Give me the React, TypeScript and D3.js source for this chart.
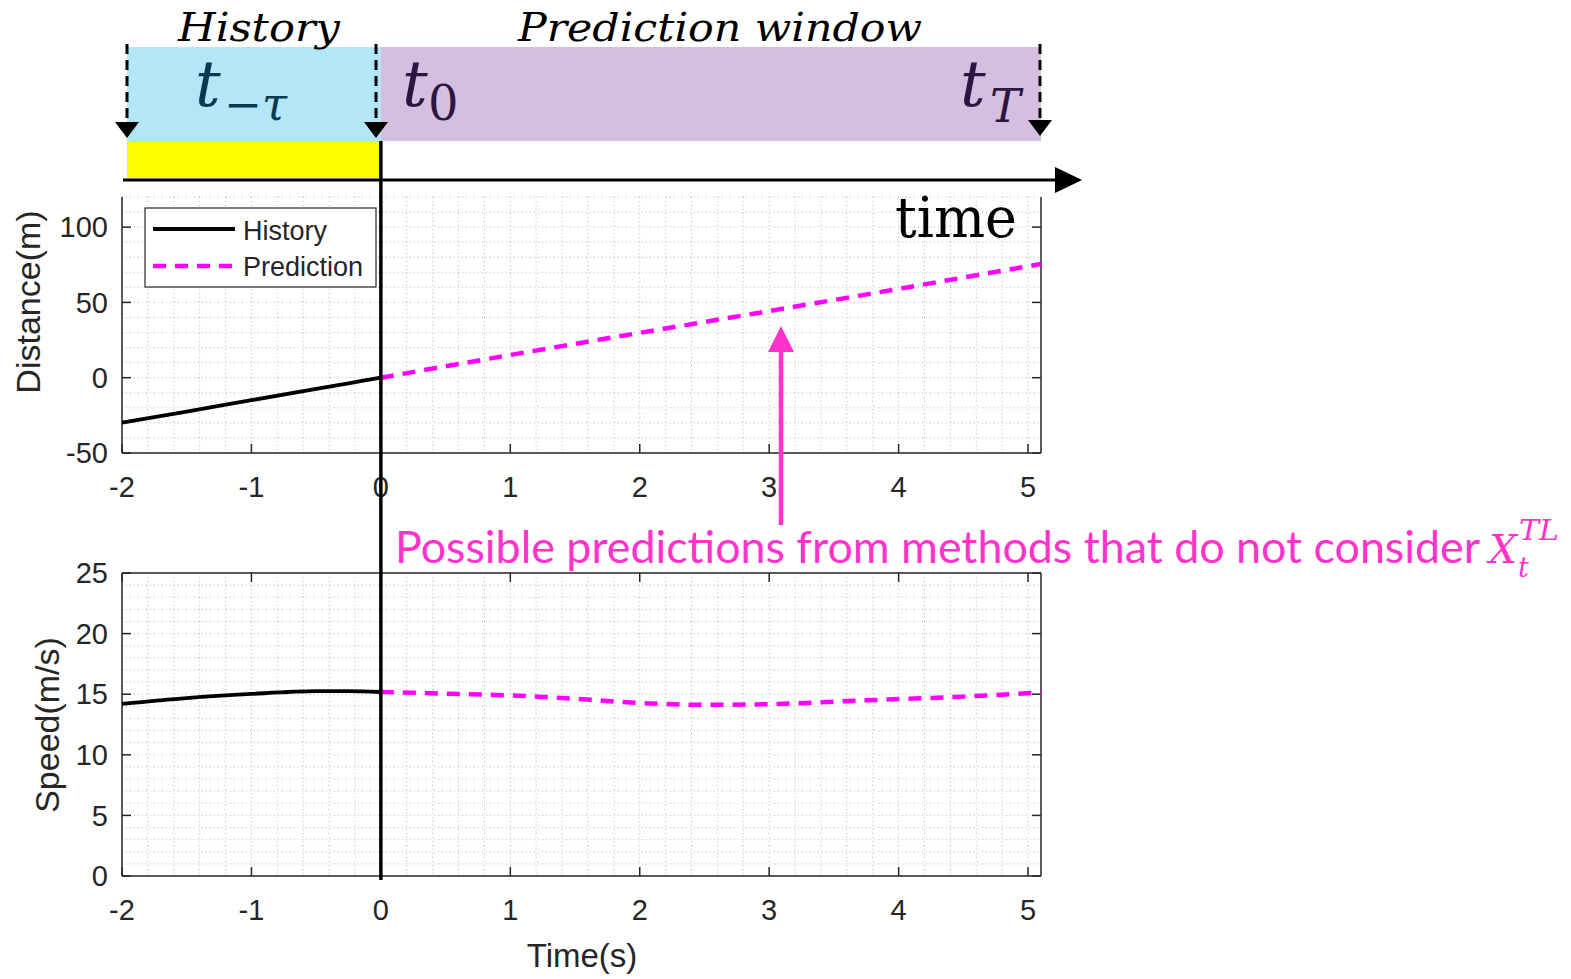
import React from "react";
import * as d3 from "d3";

// time axis ticks shared by both panels
const timeTicks = [-2, -1, 0, 1, 2, 3, 4, 5];
const distTicks = [-50, 0, 50, 100];
const speedTicks = [0, 5, 10, 15, 20, 25];

// history (t <= 0)
const histTime = [-2, -1.5, -1, -0.5, -0.25, 0];
const histDist = [-29.8, -22.5, -14.9, -7.4, -3.7, 0];
const histSpeed = [14.2, 14.68, 15.02, 15.25, 15.26, 15.18];

// prediction (t >= 0)
const predTime = [0, 0.5, 1, 1.5, 2, 2.5, 3, 3.5, 4, 4.5, 5.1];
const predDist = [0, 7.6, 15.1, 22.5, 29.8, 37.0, 44.3, 51.6, 59.0, 66.5, 75.5];
const predSpeed = [15.18, 15.05, 14.9, 14.62, 14.28, 14.12, 14.18, 14.38, 14.6, 14.8, 15.15];

const axisColor = "#262626";
const magenta = "#FF00FF";
const annot = "#FF33CC";
const sans = "'Liberation Sans', Arial, sans-serif";
const serif = "'DejaVu Serif', serif";

const x = d3.scaleLinear().domain([-2, 5.1]).range([122, 1041]);
const yDist = d3.scaleLinear().domain([-50, 120]).range([453, 197]);
const ySpeed = d3.scaleLinear().domain([0, 25]).range([876, 573]);

type PanelProps = {
  y: d3.ScaleLinear<number, number>;
  yTicks: number[];
  yMinor: number;
  label: string;
  labelX: number;
  labelY: number;
  hist: number[];
  pred: number[];
  drawTop: boolean;
};

const Panel = ({ y, yTicks, yMinor, label, labelX, labelY, hist, pred, drawTop }: PanelProps) => {
  const [x0, x1] = x.range();
  const [yb, yt] = y.range();
  const [d0, d1] = y.domain();
  const line = (ts: number[]) =>
    d3.line<number>()
      .x((_, i) => x(ts[i]))
      .y((v) => y(v))
      .curve(d3.curveMonotoneX);
  const xMinor = d3.range(-2, 5.1001, 0.2);
  const yMin = d3.range(d0, d1 + 0.001, yMinor);

  return (
    <g>
      {/* dotted minor grid */}
      <g stroke="#b5b5b5" strokeWidth={1} strokeDasharray="1,3">
        {xMinor.map((t) => (
          <line key={"gx" + t} x1={x(t)} x2={x(t)} y1={yt} y2={yb} />
        ))}
        {yMin.map((v) => (
          <line key={"gy" + v} x1={x0} x2={x1} y1={y(v)} y2={y(v)} />
        ))}
      </g>

      {/* axes box */}
      <g stroke={axisColor} strokeWidth={1.5} fill="none">
        <line x1={x0} x2={x1} y1={yb} y2={yb} />
        <line x1={x0} x2={x0} y1={yt} y2={yb} />
        <line x1={x1} x2={x1} y1={yt} y2={yb} />
        {drawTop && <line x1={x0} x2={x1} y1={yt} y2={yt} />}
        {timeTicks.map((t) => (
          <g key={"tx" + t}>
            <line x1={x(t)} x2={x(t)} y1={yb} y2={yb - 9} />
            {drawTop && <line x1={x(t)} x2={x(t)} y1={yt} y2={yt + 9} />}
          </g>
        ))}
        {yTicks.map((v) => (
          <g key={"ty" + v}>
            <line x1={x0} x2={x0 + 9} y1={y(v)} y2={y(v)} />
            <line x1={x1} x2={x1 - 9} y1={y(v)} y2={y(v)} />
          </g>
        ))}
      </g>

      {/* tick labels */}
      <g fontFamily={sans} fontSize={29} fill={axisColor}>
        {timeTicks.map((t) => (
          <text key={"lx" + t} x={x(t)} y={yb + 34} dy="0.35em" textAnchor="middle">
            {t}
          </text>
        ))}
        {yTicks.map((v) => (
          <text key={"ly" + v} x={x0 - 14} y={y(v)} dy="0.35em" textAnchor="end">
            {v}
          </text>
        ))}
        <text
          transform={`translate(${labelX},${labelY}) rotate(-90)`}
          textAnchor="middle"
          dy="0.35em"
          fontSize={34}
        >
          {label}
        </text>
      </g>

      {/* series */}
      <path d={line(histTime)(hist) || ""} fill="none" stroke="#000" strokeWidth={3.8} />
      <path
        d={line(predTime)(pred) || ""}
        fill="none"
        stroke={magenta}
        strokeWidth={4.5}
        strokeDasharray="13,9"
      />
    </g>
  );
};

const DashedArrow = ({ px, top, tip }: { px: number; top: number; tip: number }) => (
  <g>
    <line x1={px} x2={px} y1={top} y2={tip - 14} stroke="#000" strokeWidth={3} strokeDasharray="10,6" />
    <path d={`M${px - 12},${tip - 16} L${px + 12},${tip - 16} L${px},${tip} Z`} fill="#000" />
  </g>
);

const App = () => {
  const xHistStart = 127;
  const xNow = x(0);
  const xEnd = 1041;

  return (
    <svg
      width={1571}
      height={979}
      style={{ position: "absolute", left: 0, top: 0, background: "#fff" }}
    >
      {/* plots */}
      <Panel
        y={yDist}
        yTicks={distTicks}
        yMinor={10}
        label="Distance(m)"
        labelX={28}
        labelY={302}
        hist={histDist}
        pred={predDist}
        drawTop={false}
      />
      <Panel
        y={ySpeed}
        yTicks={speedTicks}
        yMinor={1}
        label="Speed(m/s)"
        labelX={47}
        labelY={725}
        hist={histSpeed}
        pred={predSpeed}
        drawTop={true}
      />

      <text x={582} y={955} dy="0.35em" textAnchor="middle" fontFamily={sans} fontSize={33} fill={axisColor}>
        Time(s)
      </text>

      {/* legend */}
      <g>
        <rect x={145} y={208} width={231} height={79} fill="#fff" stroke={axisColor} strokeWidth={1.2} />
        <line x1={153} x2={235} y1={229} y2={229} stroke="#000" strokeWidth={3.8} />
        <line x1={153} x2={235} y1={266} y2={266} stroke={magenta} strokeWidth={4.5} strokeDasharray="13,9" />
        <g fontFamily={sans} fontSize={27} fill={axisColor}>
          <text x={243} y={240}>History</text>
          <text x={243} y={276}>Prediction</text>
        </g>
      </g>

      {/* header: history / prediction windows */}
      <rect x={xHistStart} y={47} width={xNow - xHistStart} height={95} fill="#B3E6F7" />
      <rect x={xNow} y={47} width={xEnd - xNow} height={94} fill="#D4BFE1" />
      <rect x={xHistStart} y={142} width={xNow - xHistStart} height={36} fill="#FFFF00" />

      <g fontFamily={serif} fontStyle="italic" fill="#000">
        <text x={178} y={41} fontSize={40} textLength={162} lengthAdjust="spacingAndGlyphs">
          History
        </text>
        <text x={518} y={41} fontSize={40} textLength={404} lengthAdjust="spacingAndGlyphs">
          Prediction window
        </text>
      </g>

      <g fontFamily={serif} fontStyle="italic">
        <text x={195} y={106} fontSize={64} fill="#063A4C">t</text>
        <text x={224} y={120} fontSize={46} fill="#063A4C" textLength={63} lengthAdjust="spacingAndGlyphs">
          −τ
        </text>
        <text x={402} y={106} fontSize={64} fill="#2B1541">t</text>
        <text x={428} y={120} fontSize={48} fill="#2B1541" fontStyle="normal">0</text>
        <text x={960} y={106} fontSize={64} fill="#2B1541">t</text>
        <text x={990} y={122} fontSize={46} fill="#2B1541">T</text>
      </g>

      <DashedArrow px={127} top={44} tip={138} />
      <DashedArrow px={376} top={44} tip={138} />
      <DashedArrow px={1040} top={44} tip={136} />

      {/* time arrow */}
      <line x1={123} x2={1060} y1={180} y2={180} stroke="#000" strokeWidth={3} />
      <path d="M1055,167 L1082,180 L1055,193 Z" fill="#000" />
      <line x1={xNow} x2={xNow} y1={141} y2={880} stroke="#000" strokeWidth={3.5} />

      <text x={895} y={237} fontFamily={serif} fontSize={56} fill="#000" textLength={122} lengthAdjust="spacingAndGlyphs">
        time
      </text>

      {/* annotation */}
      <line x1={781} x2={781} y1={525} y2={350} stroke={annot} strokeWidth={4.5} />
      <path d="M768,352 L781,326 L794,352 Z" fill={annot} />
      <text
        x={395}
        y={563}
        fontFamily="Lato, 'Noto Sans', sans-serif"
        fontSize={44}
        fill={annot}
        textLength={1085}
        lengthAdjust="spacingAndGlyphs"
      >
        Possible predictions from methods that do not consider
      </text>
      <g fontFamily={serif} fontStyle="italic" fill={annot}>
        <text x={1489} y={563} fontSize={40} textLength={28} lengthAdjust="spacingAndGlyphs">X</text>
        <text x={1519} y={540} fontSize={27} textLength={40} lengthAdjust="spacingAndGlyphs">TL</text>
        <text x={1518} y={577} fontSize={27}>t</text>
      </g>
    </svg>
  );
};

export default App;
